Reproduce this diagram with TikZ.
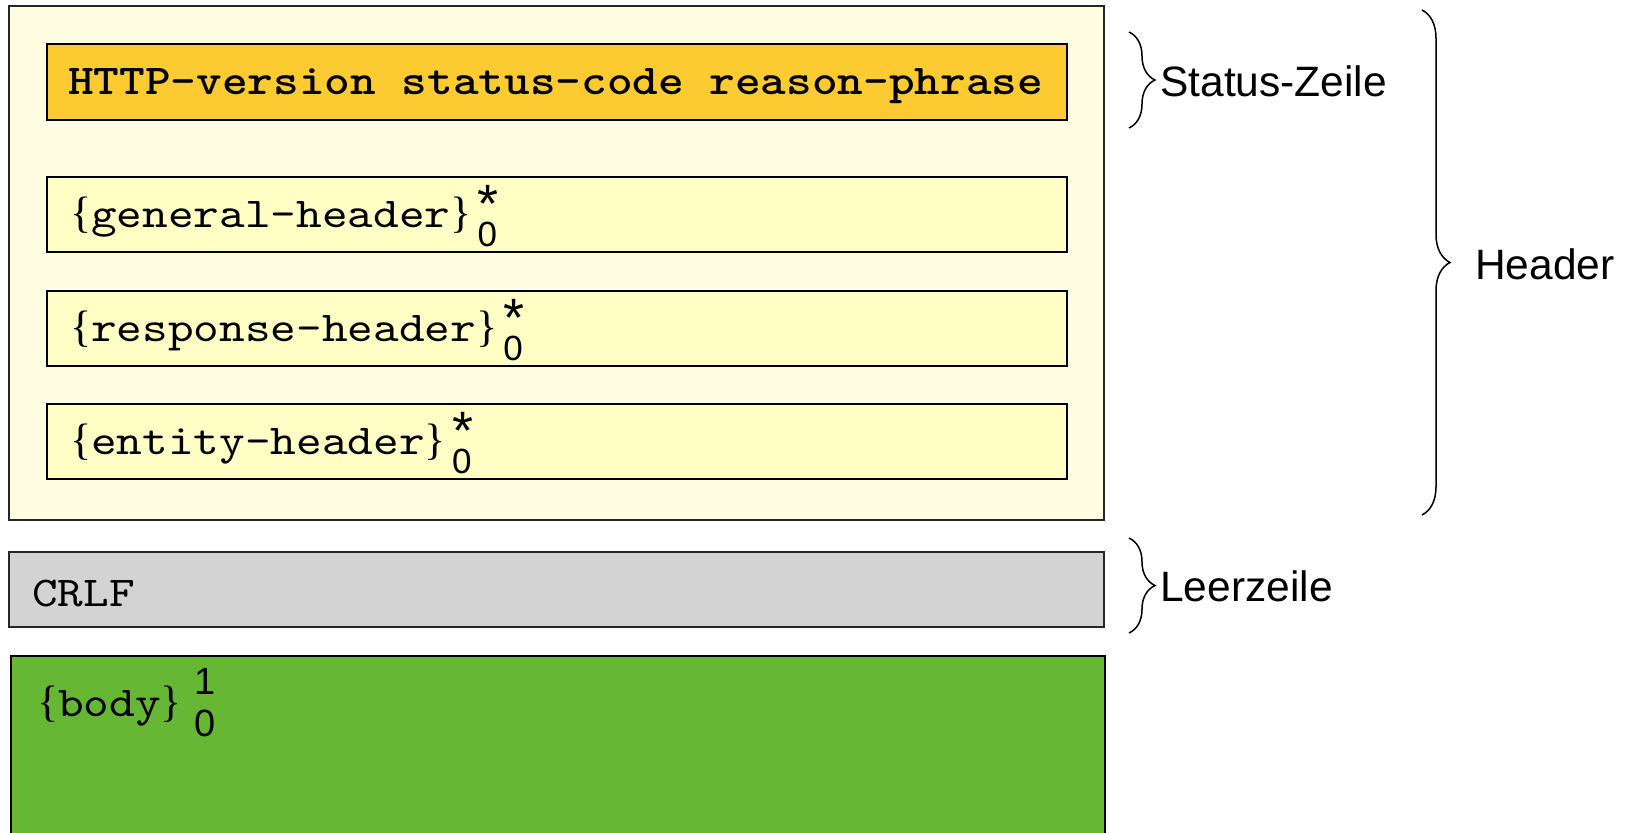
\documentclass[tikz,border=0pt]{standalone}
\usepackage{fontspec}
\setmainfont{Liberation Sans}
\newfontfamily\typewriter[FakeStretch=1.15, BoldFont=lmmonolt10-bold.otf]{lmmono10-regular.otf}
\newfontfamily\bracefont{Liberation Serif}
\usetikzlibrary{decorations.pathreplacing}

\definecolor{outerfill}{HTML}{FFFDE1}
\definecolor{hdrfill}{HTML}{FFFEC4}
\definecolor{statusfill}{HTML}{FBCB31}
\definecolor{crlffill}{HTML}{D3D3D3}
\definecolor{bodyfill}{HTML}{66B834}

% fonts
\newcommand\monotext{\fontsize{42.5}{50}\selectfont\typewriter}
\newcommand\labeltext{\fontsize{42.5}{50}\selectfont\rmfamily}
\newcommand\idxfont{\fontsize{35}{35}\selectfont\rmfamily}
\newcommand\bodyidxfont{\fontsize{38}{38}\selectfont\rmfamily}
\newcommand\starfont{\fontsize{54}{54}\selectfont\rmfamily}
% braces around a rule name
\newcommand\lbr{{\fontsize{44}{44}\selectfont\bracefont\{}}
\newcommand\rbr{{\fontsize{44}{44}\selectfont\bracefont\}}}
% repetition marks after a rule name
\newcommand\starzero{\hspace{6pt}\makebox[0pt][l]{\raisebox{5pt}{\starfont *}}\raisebox{-19pt}{\idxfont 0}}
\newcommand\onezero{\hspace{12pt}\makebox[0pt][l]{\raisebox{22pt}{\bodyidxfont 1}}\raisebox{-20pt}{\bodyidxfont 0}}

\tikzset{
  box/.style={draw=black, line width=1.6pt, anchor=north west, inner sep=0pt},
  rule/.style={anchor=base west, inner sep=0pt, font=\monotext},
  lbl/.style={anchor=base west, inner sep=0pt, font=\labeltext},
  bracket/.style={draw, line width=1.5pt, decorate, decoration={brace, amplitude=#1}},
}

\begin{document}
\begin{tikzpicture}[x=1pt, y=-1pt]
\useasboundingbox (0,0) rectangle (1634,833);
\clip (0,0) rectangle (1634,833);

% header block
\node[box, draw=black!85, fill=outerfill, minimum width=1095pt, minimum height=514pt] (hdr) at (8,5) {};
\node[box, fill=statusfill, minimum width=1020pt, minimum height=76pt] (statusbox) at (46,43) {};
\node[box, fill=hdrfill, minimum width=1020pt, minimum height=75pt] (genbox) at (46,176) {};
\node[box, fill=hdrfill, minimum width=1020pt, minimum height=75pt] (respbox) at (46,290) {};
\node[box, fill=hdrfill, minimum width=1020pt, minimum height=75pt] (entbox) at (46,403) {};

% empty line and body
\node[box, draw=black!85, fill=crlffill, minimum width=1095pt, minimum height=75pt] (crlfbox) at (8,551) {};
\node[box, fill=bodyfill, minimum width=1094pt, minimum height=220pt] (bodybox) at (10,655) {};

% texts inside the boxes
\node[rule, font=\monotext\bfseries] (statustext) at (68,94) {HTTP-version status-code reason-phrase};
\node[rule] (gentext) at (70,227) {\lbr general-header\rbr\starzero};
\node[rule] (resptext) at (70,341) {\lbr response-header\rbr\starzero};
\node[rule] (enttext) at (70,454) {\lbr entity-header\rbr\starzero};
\node[rule] (crlftext) at (32,606) {CRLF};
\node[rule] (bodytext) at (37,716) {\lbr body\rbr\onezero};

% braces and their labels
\coordinate (sTop) at (1129,32);
\coordinate (sBot) at (1129,128);
\coordinate (hTop) at (1422,10);
\coordinate (hBot) at (1422,515);
\coordinate (lTop) at (1129,538);
\coordinate (lBot) at (1129,633);
\draw[bracket=26pt] (sTop) -- (sBot);
\draw[bracket=28pt] (hTop) -- (hBot);
\draw[bracket=26pt] (lTop) -- (lBot);

\node[lbl] (statuslbl) at (1160,96) {Status-Zeile};
\node[lbl] (leerlbl) at (1160,601) {Leerzeile};
\node[lbl] (headerlbl) at (1475,279) {Header};
\end{tikzpicture}
\end{document}
